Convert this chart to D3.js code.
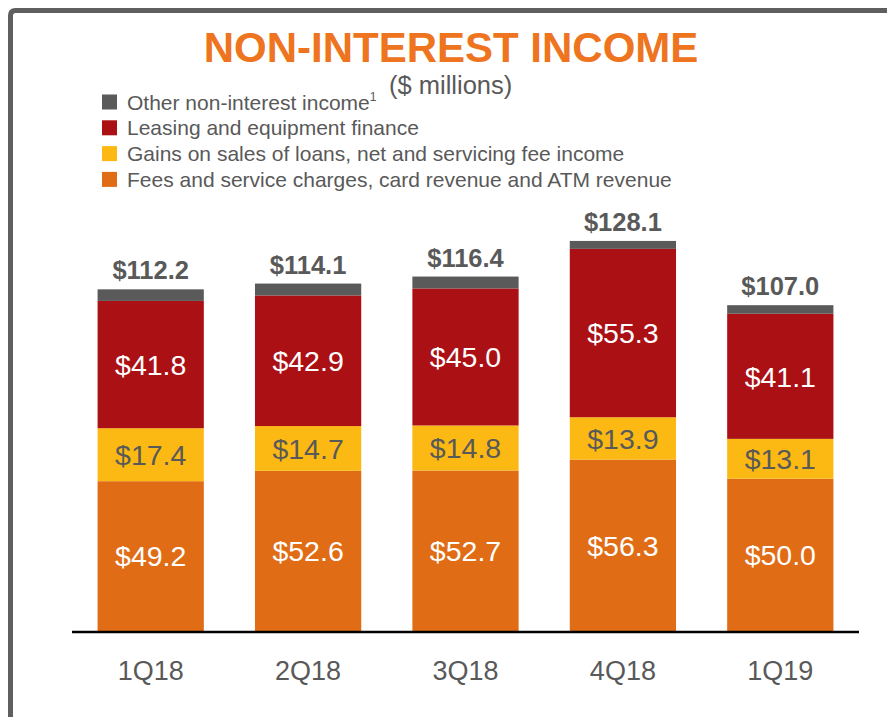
<!DOCTYPE html>
<html>
<head>
<meta charset="utf-8">
<script src="https://cdn.jsdelivr.net/npm/d3@7/dist/d3.min.js"></script>
<style>
  html, body { margin: 0; padding: 0; background: #fff; }
  svg { display: block; font-family: "Liberation Sans", Arial, sans-serif; }
</style>
</head>
<body>
<svg id="chart" width="887" height="717"></svg>
<script>
const categories = ["1Q18", "2Q18", "3Q18", "4Q18", "1Q19"];
const fees = [49.2, 52.6, 52.7, 56.3, 50.0];
const gains = [17.4, 14.7, 14.8, 13.9, 13.1];
const leasing = [41.8, 42.9, 45.0, 55.3, 41.1];
const other = [3.8, 3.9, 3.9, 2.6, 2.8];
const totals = [112.2, 114.1, 116.4, 128.1, 107.0];

const seriesKeys = ["fees", "gains", "leasing", "other"];
const seriesNames = {
  other: "Other non-interest income",
  leasing: "Leasing and equipment finance",
  gains: "Gains on sales of loans, net and servicing fee income",
  fees: "Fees and service charges, card revenue and ATM revenue"
};
const colors = { fees: "#E06D16", gains: "#FDB913", leasing: "#AB1015", other: "#5A5A5A" };
const labelColors = { fees: "#ffffff", gains: "#595959", leasing: "#ffffff" };

const table = categories.map((c, i) => ({
  cat: c, fees: fees[i], gains: gains[i], leasing: leasing[i], other: other[i], total: totals[i]
}));

const svg = d3.select("#chart");

// frame
svg.append("path")
  .attr("d", "M10.5,720 L10.5,15.5 Q10.5,10.5 15.5,10.5 L890,10.5")
  .attr("fill", "none").attr("stroke", "#5F5F5F").attr("stroke-width", 5);

// title
svg.append("text").attr("x", 451).attr("y", 62).attr("text-anchor", "middle")
  .attr("font-size", 42).attr("font-weight", "bold").attr("fill", "#EE7420")
  .text("NON-INTEREST INCOME");
svg.append("text").attr("x", 389).attr("y", 94)
  .attr("font-size", 25.5).attr("fill", "#595959").text("($ millions)");

// legend
const legendOrder = ["other", "leasing", "gains", "fees"];
const lg = svg.append("g");
legendOrder.forEach((k, i) => {
  const yC = 102 + i * 25.8;
  lg.append("rect").attr("x", 102).attr("y", yC - 7.5).attr("width", 15).attr("height", 15)
    .attr("fill", colors[k]);
  const t = lg.append("text").attr("x", 127).attr("y", yC + 7.5)
    .attr("font-size", 21).attr("fill", "#595959").text(seriesNames[k]);
  if (k === "other") {
    t.append("tspan").attr("font-size", 12).attr("dy", -9).text("1");
  }
});

// scales
const x = d3.scaleBand().domain(categories).range([72, 859])
  .paddingInner(0.325).paddingOuter(0.1625);
const y = d3.scaleLinear().domain([0, 130]).range([631, 631 - 130 * 3.045]);

const stack = d3.stack().keys(seriesKeys);
const stacked = stack(table);

const g = svg.append("g");
stacked.forEach(s => {
  g.append("g").selectAll("rect").data(s).join("rect")
    .attr("x", d => x(d.data.cat))
    .attr("width", x.bandwidth())
    .attr("y", d => y(d[1]))
    .attr("height", d => y(d[0]) - y(d[1]))
    .attr("fill", colors[s.key]);
});

// segment labels
stacked.filter(s => s.key !== "other").forEach(s => {
  g.append("g").selectAll("text").data(s).join("text")
    .attr("x", d => x(d.data.cat) + x.bandwidth() / 2)
    .attr("y", d => (y(d[0]) + y(d[1])) / 2)
    .attr("dy", "0.36em")
    .attr("text-anchor", "middle")
    .attr("font-size", 28.5)
    .attr("fill", labelColors[s.key])
    .text(d => "$" + d3.format(".1f")(d.data[s.key]));
});

// totals
g.append("g").selectAll("text").data(table).join("text")
  .attr("x", d => x(d.cat) + x.bandwidth() / 2)
  .attr("y", d => y(d.fees + d.gains + d.leasing + d.other) - 10)
  .attr("text-anchor", "middle")
  .attr("font-size", 25.5).attr("font-weight", "bold").attr("fill", "#595959")
  .text(d => "$" + d3.format(".1f")(d.total));

// x axis
const xAxis = svg.append("g").attr("transform", "translate(0,632)")
  .call(d3.axisBottom(x).tickSize(0).tickPadding(0));
xAxis.select(".domain").attr("d", "M72,0H859").attr("stroke", "#000").attr("stroke-width", 2.6);
xAxis.selectAll(".tick text")
  .attr("y", 48).attr("dy", 0)
  .attr("font-size", 27).attr("fill", "#595959")
  .attr("font-family", "\"Liberation Sans\", Arial, sans-serif");
</script>
</body>
</html>
